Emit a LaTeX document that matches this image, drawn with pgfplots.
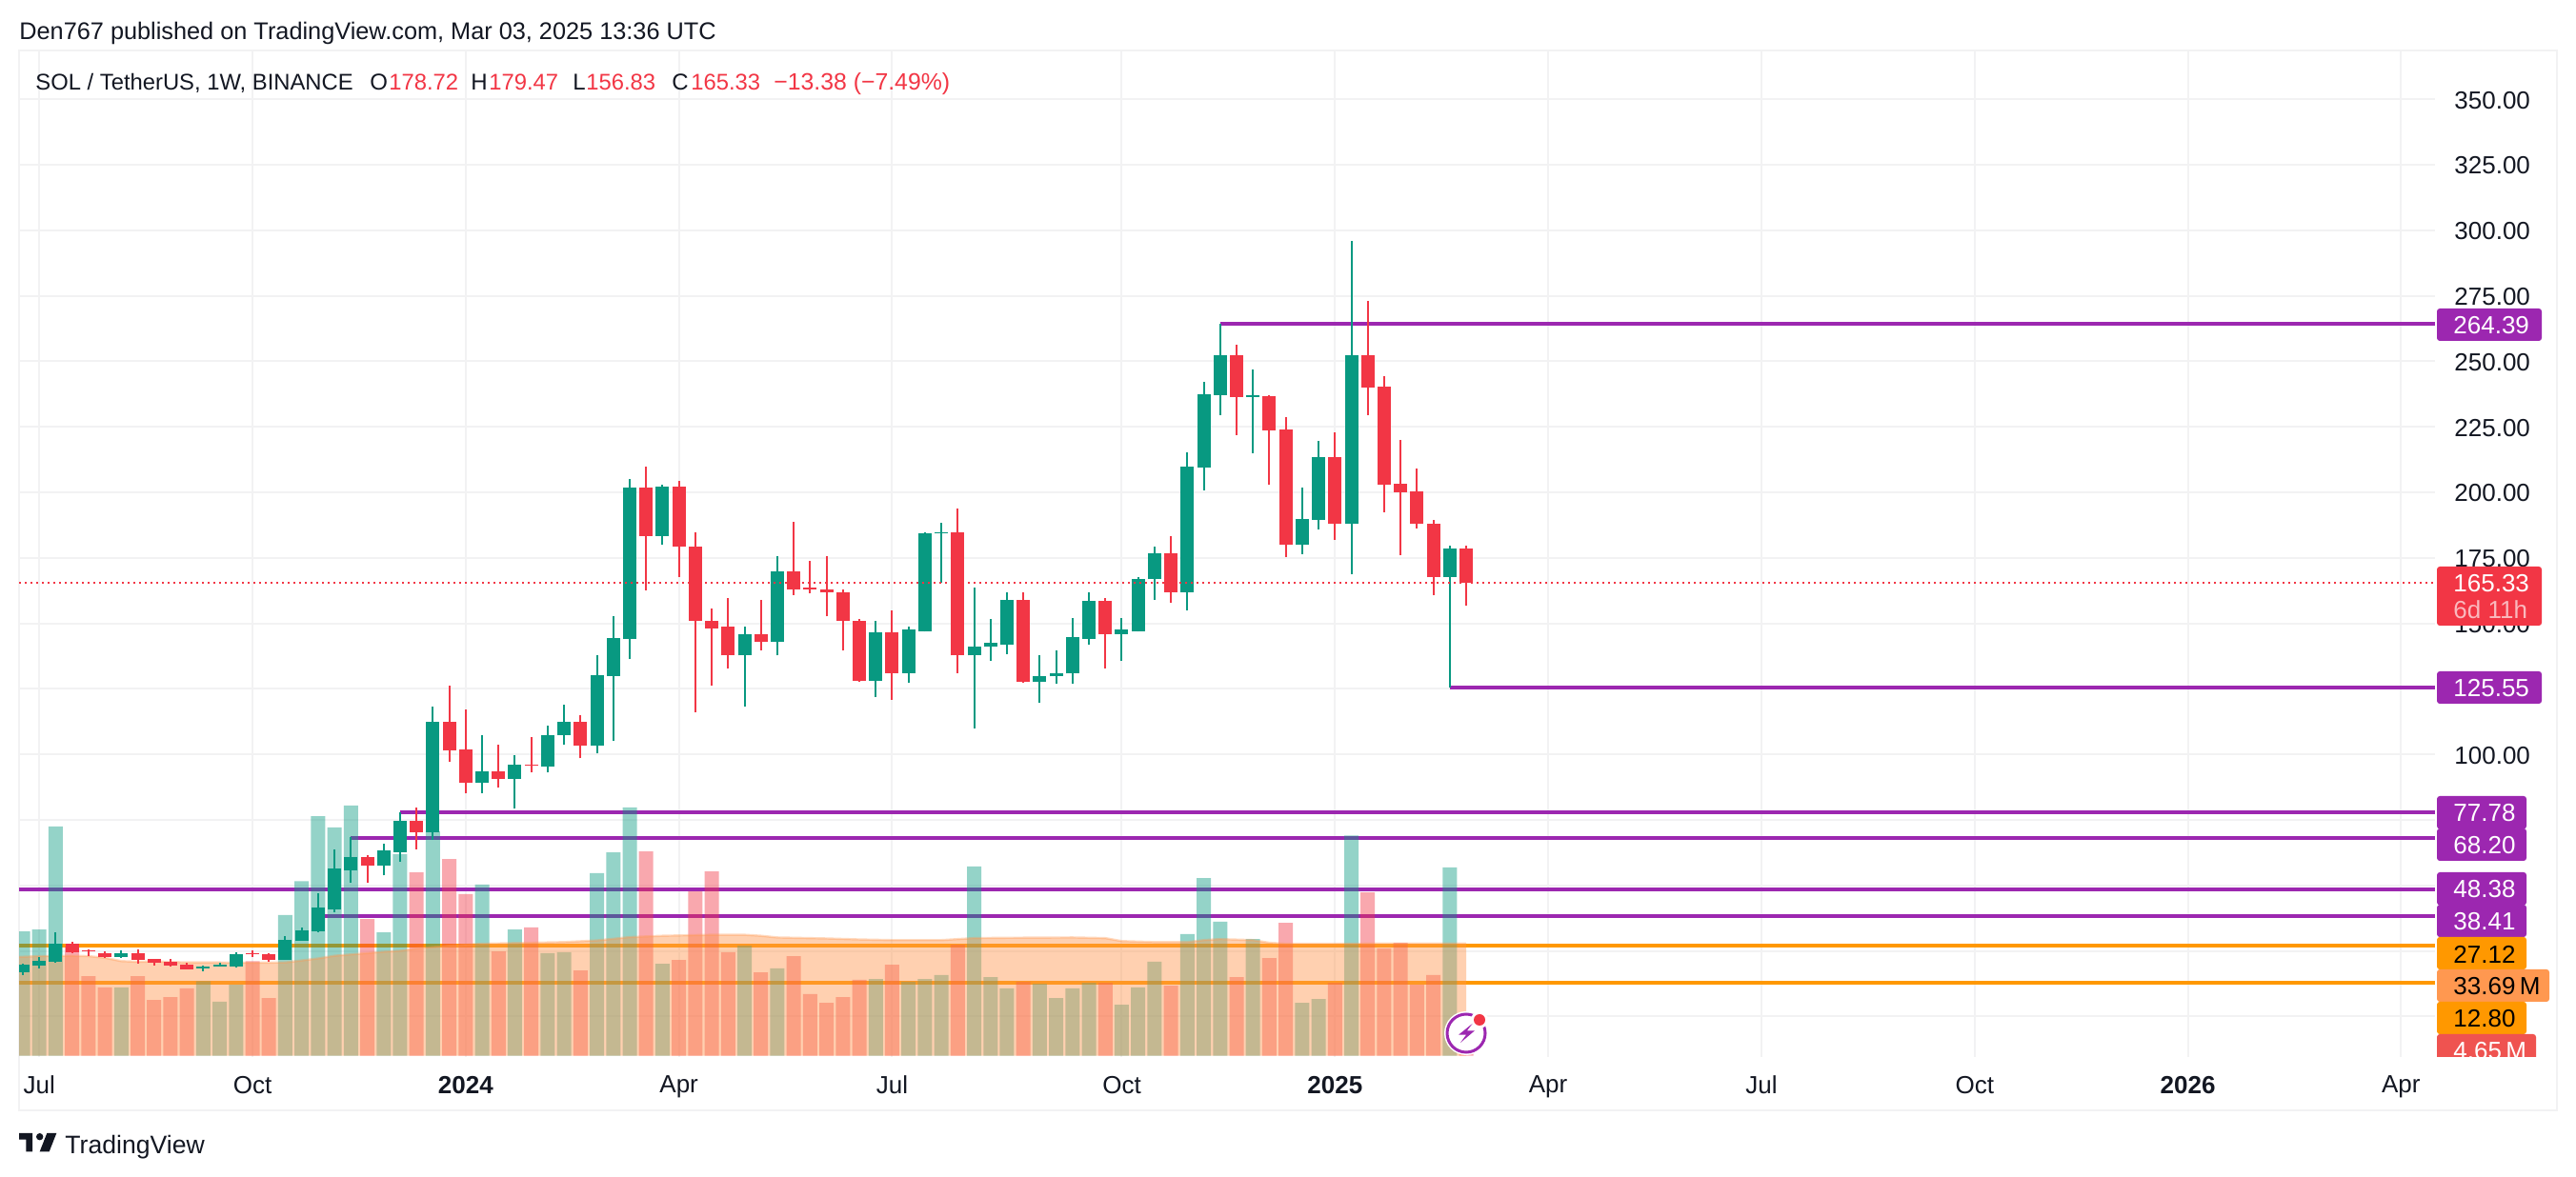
\documentclass[border=0pt]{standalone}
\usepackage{pgfplots}
\usepackage{pgfplotstable}
\usepackage{fontspec}
\setmainfont{Liberation Sans}
\pgfplotsset{compat=1.18}
\definecolor{cg}{HTML}{089981}
\definecolor{cr}{HTML}{F23645}
\definecolor{cp}{HTML}{9C27B0}
\definecolor{co}{HTML}{FF9800}
\definecolor{cma}{HTML}{FF9850}
\definecolor{cvr}{HTML}{EF5350}
\definecolor{ctx}{HTML}{131722}
\definecolor{cgr}{HTML}{F2F2F3}
% week index, high, body top, body bottom, low
\pgfplotstableread{
i hi top bot lo
0 20.3 19.7 16.7 15.9
1 22.8 21.3 19.3 18.4
2 32.2 27.6 21.0 20.6
6 25.3 24.3 22.8 22.4
11 19.4 19.2 18.4 17.4
12 20.6 19.9 19.2 19.2
13 24.4 23.9 19.2 18.8
16 30.5 29.3 21.7 21.7
17 34.1 33.0 28.9 28.9
18 47.1 41.4 32.6 32.2
19 63.9 56.3 41.0 39.9
20 68.5 61.0 55.9 51.1
22 65.8 63.2 57.4 53.8
23 78.0 74.8 62.8 59.1
25 118.2 112.3 70.4 67.3
28 107.3 93.7 89.0 85.3
30 99.6 96.0 90.8 79.2
32 110.9 107.5 95.2 93.0
33 118.8 112.3 107.3 103.6
35 137.7 130.1 103.3 100.3
36 152.8 144.4 129.8 105.0
37 205.1 201.8 144.0 136.3
39 202.9 202.2 183.4 180.0
44 148.9 145.7 137.7 118.4
46 175.8 169.7 142.8 137.7
52 151.1 146.4 128.2 122.0
54 148.6 147.5 131.1 127.5
55 184.9 184.2 147.1 146.8
56 188.2 184.9 184.2 165.3
58 163.5 141.3 137.7 110.0
59 151.8 142.4 141.0 135.8
60 162.0 158.8 142.0 138.4
62 138.0 130.0 127.8 119.8
63 139.5 131.1 129.7 126.8
64 152.2 144.6 130.8 127.1
65 161.7 158.4 144.2 142.0
67 152.2 147.5 146.0 135.5
68 167.8 167.1 147.1 146.8
69 179.1 176.6 166.8 159.1
71 215.1 209.7 162.0 155.1
72 242.2 237.5 209.5 200.7
73 264.39 252.4 237.1 229.5
75 247.0 237.1 236.5 214.9
78 201.8 189.8 180.0 176.3
79 219.7 213.5 189.5 185.8
81 295.8 252.4 188.0 168.7
87 179.6 178.5 167.6 125.55
}\candlesG
\pgfplotstableread{
i hi top bot lo
3 28.6 27.6 24.4 24.3
4 25.7 25.3 24.7 22.9
5 25.0 24.3 22.8 22.4
7 25.7 24.3 21.7 20.3
8 22.0 22.0 20.6 19.5
9 22.0 20.9 19.5 19.2
10 20.6 19.9 18.0 18.0
14 25.1 24.3 23.6 22.8
15 24.3 23.6 21.7 20.9
21 61.4 61.0 57.4 51.1
24 79.6 74.8 70.4 63.9
26 126.4 112.3 101.4 97.0
27 117.0 101.8 89.0 85.0
29 103.6 93.7 90.8 87.2
31 106.5 96.1 95.7 93.0
34 114.9 112.3 103.3 98.5
38 209.8 201.8 183.4 162.6
40 204.4 202.2 179.3 167.7
41 184.7 179.3 150.8 116.0
42 155.8 151.1 148.2 126.4
43 159.8 148.6 137.7 132.6
45 159.1 145.7 142.8 139.8
47 188.6 169.7 162.8 160.9
48 173.7 163.5 162.8 161.3
49 175.5 163.1 161.7 152.6
50 163.1 162.0 150.8 139.5
51 151.5 151.1 128.2 127.8
53 154.8 146.4 131.1 120.9
57 193.7 184.6 137.7 131.1
61 161.7 158.8 127.8 127.5
66 159.5 158.4 146.0 132.9
70 183.1 176.6 162.0 157.7
74 256.4 252.4 236.4 221.9
76 237.1 236.8 223.7 202.9
77 228.8 224.0 180.0 175.3
80 223.0 213.5 188.0 181.8
82 273.2 252.4 240.1 229.5
83 244.4 240.4 202.9 192.4
84 220.0 203.3 200.0 176.0
85 209.1 200.4 188.0 186.2
86 189.5 188.0 167.6 160.7
88 179.47 178.72 165.33 156.83
}\candlesR
% volume in millions
\pgfplotstableread{
i v
0 37.3
1 37.9
2 68.8
6 20.5
11 22.4
12 16.2
13 21.3
16 42.2
17 52.4
18 71.9
19 68.5
20 75.1
22 37.0
23 60.5
25 67.3
28 51.4
30 37.9
32 30.8
33 31.1
35 54.8
36 61.0
37 74.5
39 27.6
44 33.0
46 26.2
52 23.0
54 22.2
55 23.0
56 24.2
58 56.8
59 23.6
60 20.2
62 21.6
63 17.3
64 20.2
65 21.9
67 15.3
68 20.5
69 28.2
71 36.5
72 53.3
73 40.2
75 35.0
78 15.9
79 17.0
81 66.1
87 56.5
}\volG
\pgfplotstableread{
i v
3 32.7
4 23.9
5 20.5
7 23.9
8 16.7
9 17.6
10 20.2
14 28.4
15 17.3
21 41.0
24 55.0
26 59.0
27 48.5
29 31.3
31 38.5
34 25.6
38 61.3
40 28.7
41 49.3
42 55.3
43 31.1
45 25.0
47 29.9
48 18.5
49 15.9
50 17.6
51 22.8
53 27.3
57 33.3
61 22.2
66 21.9
70 21.0
74 23.6
76 29.3
77 39.9
80 21.9
82 49.0
83 32.2
84 33.9
85 21.3
86 24.2
88 4.65
}\volR
% moving average of volume
\pgfplotstableread{
i v
-0.24 29.7
0 29.7
1 29.9
3 30.0
4 29.9
5 29.4
6 28.4
7 28.2
8 28.3
10 28.0
12 28.0
14 27.9
16 28.0
17 28.6
18 29.2
19 30.0
20 30.4
21 30.8
22 31.2
23 31.5
24 32.2
26 33.0
28 33.6
30 33.8
33 34.1
35 34.6
37 35.6
39 36.0
42 36.3
44 36.3
45 36.0
46 35.5
49 35.2
51 34.9
53 34.7
56 34.7
58 35.3
60 35.4
64 35.5
66 35.3
67 34.4
69 34.1
71 34.1
72 34.7
73 35.0
75 34.7
76 33.9
77 33.6
88 33.69
}\volMA
\newcommand{\pxc}[2]{({(#1)*0.5pt},{(1236-(#2))*0.5pt})}
\newcommand{\tagbox}[5]{\fill[#5,rounded corners=1.5pt] \pxc{#1}{#2} rectangle \pxc{#3}{#4};}
\newcommand{\tagtxt}[4][white]{\node[anchor=west,inner sep=0pt,text=#1,font=\fontsize{13}{15}\selectfont] at \pxc{#2}{#3+1} {#4};}
\newcommand{\hdr}[5][ctx]{\node[anchor=base west,inner sep=0pt,text=#1,font=\fontsize{#4}{15}\selectfont] at \pxc{#2}{#3} {#5};}
\pgfplotsset{base/.style={
  at={(10pt,63pt)},anchor=south west,scale only axis,width=1268pt,height=528.5pt,
  xmin=-0.2323,xmax=147.07}}
\begin{document}
\begin{tikzpicture}
\path[use as bounding box] (0,0) rectangle (1352pt,618pt);
\fill[white] (0,0) rectangle (1352pt,618pt);
\draw[cgr,line width=1pt] \pxc{20}{53} rectangle \pxc{2684}{1166};
% price pane: grid, scale, level lines
\begin{axis}[base,
  ymin=-15.48,ymax=368.6,
  axis line style={draw=none},
  tick style={draw=none},
  grid=major,grid style={cgr,line width=1pt},
  xtick={1,14,27,40,53,67,80,93,106,119,132,145},
  xticklabels={Jul,Oct,\textbf{2024},Apr,Jul,Oct,\textbf{2025},Apr,Jul,Oct,\textbf{2026},Apr},
  ytick={0,25,...,350},
  yticklabels={,,,,100.00,125.00,150.00,175.00,200.00,225.00,250.00,275.00,300.00,325.00,350.00},
  yticklabel pos=right,
  yticklabel style={anchor=west,inner sep=0pt,xshift=10pt,yshift=-0.5pt,text=ctx,font=\fontsize{13}{15}\selectfont},
  xticklabel style={text=ctx,font=\fontsize{13}{15}\selectfont,yshift=-6.5pt},
]
\addplot[cp,line width=2pt] coordinates {(73,264.39)(147.07,264.39)};
\addplot[cp,line width=2pt] coordinates {(87,125.55)(147.07,125.55)};
\addplot[cp,line width=2pt] coordinates {(23,77.78)(147.07,77.78)};
\addplot[cp,line width=2pt] coordinates {(20,68.20)(147.07,68.20)};
\addplot[cp,line width=2pt] coordinates {(-0.2323,48.38)(147.07,48.38)};
\addplot[cp,line width=2pt] coordinates {(18,38.41)(147.07,38.41)};
\addplot[co,line width=2pt] coordinates {(-0.2323,27.12)(147.07,27.12)};
\addplot[co,line width=2pt] coordinates {(-0.2323,12.80)(147.07,12.80)};
\end{axis}
% volume pane
\begin{axis}[base,hide axis,ymin=-0.37,ymax=301.6]
\addplot[ybar,bar width=7.5pt,bar shift=0pt,draw=none,fill=cg,fill opacity=0.43] table[x=i,y=v] {\volG};
\addplot[ybar,bar width=7.5pt,bar shift=0pt,draw=none,fill=cr,fill opacity=0.43] table[x=i,y=v] {\volR};
\addplot[draw=none,fill=cma,fill opacity=0.45] table[x=i,y=v] {\volMA} \closedcycle;
\addplot[cma,opacity=0.35,line width=1.2pt] table[x=i,y=v] {\volMA};
\end{axis}
% candles
\begin{axis}[base,hide axis,ymin=-15.48,ymax=368.6]
\addplot[draw=none,mark=none,error bars/.cd,y dir=plus,y explicit,error mark=none,
  error bar style={line width=1pt,cg}]
  table[x=i,y=lo,y error plus expr=\thisrow{hi}-\thisrow{lo}] {\candlesG};
\addplot[draw=none,mark=none,error bars/.cd,y dir=plus,y explicit,error mark=none,
  error bar style={line width=7pt,cg}]
  table[x=i,y=bot,y error plus expr=\thisrow{top}-\thisrow{bot}] {\candlesG};
\addplot[draw=none,mark=none,error bars/.cd,y dir=plus,y explicit,error mark=none,
  error bar style={line width=1pt,cr}]
  table[x=i,y=lo,y error plus expr=\thisrow{hi}-\thisrow{lo}] {\candlesR};
\addplot[draw=none,mark=none,error bars/.cd,y dir=plus,y explicit,error mark=none,
  error bar style={line width=7pt,cr}]
  table[x=i,y=bot,y error plus expr=\thisrow{top}-\thisrow{bot}] {\candlesR};
\addplot[cr,line width=1pt,dash pattern=on 1pt off 2pt] coordinates {(-0.2323,165.33)(147.07,165.33)};
\end{axis}
% header
\hdr{20}{42}{12.65}{Den767 published on TradingView.com, Mar 03, 2025 13:36 UTC}
\hdr{37}{95}{11.9}{SOL / TetherUS, 1W, BINANCE}
\hdr{388}{95}{12}{O}
\hdr[cr]{408}{95}{11.9}{178.72}
\hdr{494}{95}{12}{H}
\hdr[cr]{513}{95}{11.9}{179.47}
\hdr{601}{95}{12}{L}
\hdr[cr]{615}{95}{11.9}{156.83}
\hdr{705}{95}{12}{C}
\hdr[cr]{725}{95}{11.9}{165.33}
\hdr[cr]{812}{95}{12.4}{\symbol{"2212}13.38 (\symbol{"2212}7.49\%)}
% price scale tags
\tagbox{2558}{324}{2668}{358}{cp}\tagtxt{2575}{341}{264.39}
\tagbox{2558}{595}{2668}{657}{cr}\tagtxt{2575}{612}{165.33}\tagtxt[white!65!cr]{2575}{639}{6d 11h}
\tagbox{2558}{705}{2668}{739}{cp}\tagtxt{2575}{722}{125.55}
\tagbox{2558}{836}{2652}{870.5}{cp}\tagtxt{2575}{853}{77.78}
\tagbox{2558}{870}{2652}{904}{cp}\tagtxt{2575}{887}{68.20}
\tagbox{2558}{916}{2652}{950.5}{cp}\tagtxt{2575}{933}{48.38}
\tagbox{2558}{950}{2652}{984}{cp}\tagtxt{2575}{967}{38.41}
\tagbox{2558}{984}{2652}{1018}{co}\tagtxt[black]{2575}{1001}{27.12}
\tagbox{2558}{1018}{2676}{1052}{cma}\tagtxt[black]{2575}{1035}{33.69\,M}
\tagbox{2558}{1052}{2652}{1086}{co}\tagtxt[black]{2575}{1069}{12.80}
\begin{scope}
\clip \pxc{2550}{1080} rectangle \pxc{2700}{1110};
\tagbox{2558}{1086}{2662}{1125}{cvr}\tagtxt{2575}{1103}{4.65\,M}
\end{scope}
% snapshot icon
\fill[white] \pxc{1539}{1085} circle (11.5pt);
\draw[cp,line width=1.5pt] \pxc{1539}{1085} circle (10pt);
\fill[white] \pxc{1553}{1071} circle (4.5pt);
\fill[cr] \pxc{1553}{1071} circle (3pt);
\fill[cp] \pxc{1545.5}{1075} -- \pxc{1531}{1086.7} -- \pxc{1539}{1086.7} -- \pxc{1533}{1095} -- \pxc{1548}{1082.3} -- \pxc{1540}{1082.3} -- cycle;
% logo
\fill[ctx] \pxc{20}{1190} -- \pxc{34}{1190} -- \pxc{34}{1209.3} -- \pxc{27.3}{1209.3} -- \pxc{27.3}{1196.7} -- \pxc{20}{1196.7} -- cycle;
\fill[ctx] \pxc{41.7}{1193.7} circle (1.85pt);
\fill[ctx] \pxc{49.3}{1190} -- \pxc{59.3}{1190} -- \pxc{51.7}{1209.3} -- \pxc{41.7}{1209.3} -- cycle;
\hdr{68}{1212}{13.3}{TradingView}
\end{tikzpicture}
\end{document}
